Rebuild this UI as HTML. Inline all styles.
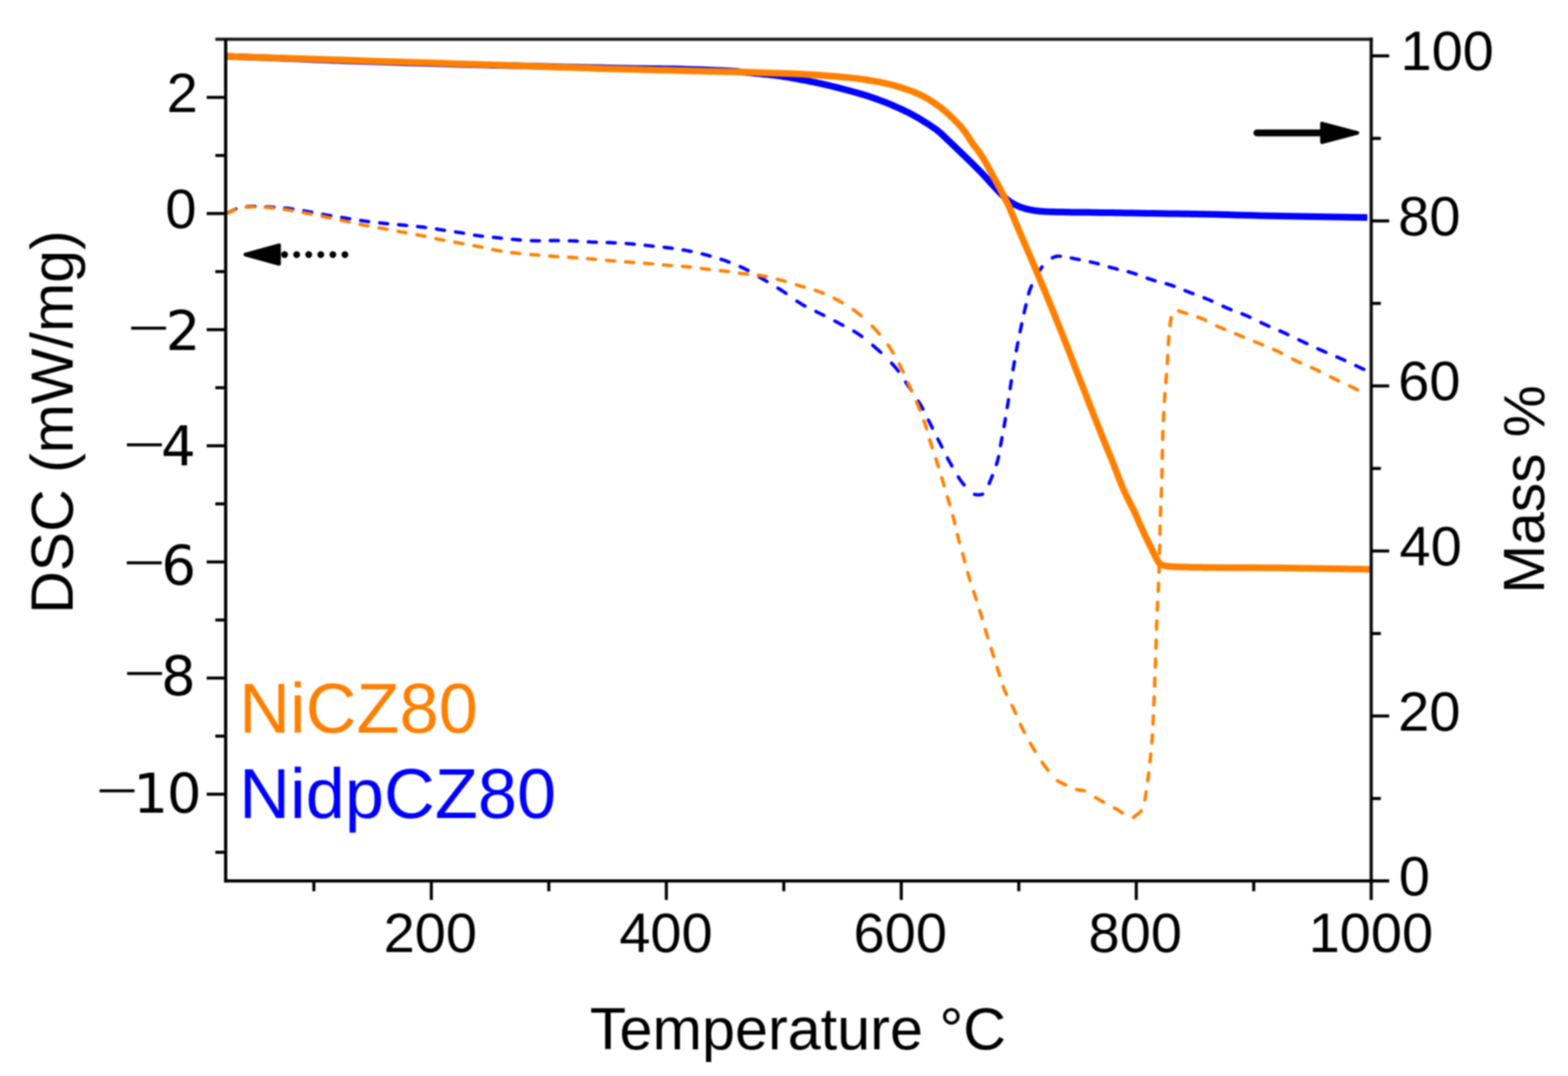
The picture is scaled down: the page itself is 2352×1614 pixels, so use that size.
<!DOCTYPE html>
<html lang="en"><head><meta charset="utf-8"><title>TGA / DSC of NiCZ80 and NidpCZ80</title>
<style>
html,body{margin:0;padding:0;background:#fff;}
body{width:2352px;height:1614px;overflow:hidden;}
svg{display:block;filter:blur(0.8px);}
</style></head><body>
<svg xmlns="http://www.w3.org/2000/svg" width="2352" height="1614" viewBox="0 0 2352 1614">
<rect width="2352" height="1614" fill="#fff"/>
<g fill="none" stroke-linejoin="round">
<path d="M341.9 319.4L342.0 319.3L342.8 318.9L343.6 318.4L344.4 317.9L345.3 317.4L346.2 317.0L347.2 316.5L348.6 315.9L350.1 315.2L351.6 314.5L353.3 313.8L353.9 313.5M370.4 309.9L370.7 309.8L372.7 309.7L374.8 309.6L377.9 309.5L381.3 309.5L382.4 309.5M398.8 310.2L399.7 310.2L403.3 310.4L406.9 310.6L410.4 310.8L410.8 310.8M427.2 312.1L428.2 312.2L431.7 312.6L435.3 313.0L438.8 313.5L439.2 313.6M455.7 316.2L456.6 316.4L460.2 317.0L463.9 317.7L467.7 318.3L467.7 318.3M484.1 321.5L485.3 321.7L489.1 322.4L492.7 323.0L496.1 323.6M512.6 326.2L512.9 326.3L516.4 326.8L520.0 327.4L523.5 328.0L524.6 328.1M541.0 330.7L541.3 330.8L544.8 331.3L548.4 331.8L551.9 332.2L553.0 332.4M569.5 334.3L569.8 334.4L573.3 334.7L576.9 335.1L580.4 335.5L581.5 335.6M598.0 337.0L598.2 337.1L601.7 337.4L605.3 337.7L608.8 338.1L610.0 338.2M626.4 339.8L626.7 339.8L630.2 340.2L633.8 340.6L637.3 341.1L638.4 341.2M654.8 343.6L655.1 343.6L658.6 344.2L662.2 344.7L665.7 345.2L666.8 345.4M683.3 347.8L683.6 347.9L687.1 348.4L690.7 349.0L694.2 349.6L695.3 349.8M711.8 352.7L712.0 352.7L715.5 353.3L719.1 353.8L722.6 354.2L723.8 354.3M740.2 356.0L740.5 356.0L744.0 356.4L747.6 356.7L751.1 357.1L752.2 357.2M768.6 359.0L768.9 359.0L772.4 359.3L776.0 359.6L779.5 359.9L780.6 360.0M797.1 361.0L797.4 361.0L800.9 361.1L804.5 361.2L808.0 361.3L809.1 361.3M825.5 360.9L825.8 360.9L829.3 360.9L832.9 360.9L836.4 360.9L837.5 360.9M854.0 361.2L854.3 361.2L857.8 361.3L861.4 361.4L864.9 361.6L866.0 361.7M882.5 362.8L882.7 362.8L886.2 363.0L889.8 363.2L893.3 363.3L894.5 363.3M910.9 363.8L911.2 363.8L914.7 363.9L918.3 364.1L921.8 364.2L922.9 364.3M939.4 365.2L939.6 365.3L943.1 365.5L946.7 365.8L950.3 366.1L951.4 366.2M967.8 367.9L968.1 368.0L971.6 368.3L975.2 368.7L978.7 369.1L979.8 369.2M996.3 370.9L996.5 371.0L1000.0 371.4L1003.6 371.9L1007.2 372.3L1008.3 372.5M1024.7 374.9L1025.0 374.9L1028.5 375.6L1032.1 376.2L1035.6 376.9L1036.7 377.1M1053.2 380.8L1053.4 380.9L1056.9 381.8L1060.5 382.7L1064.1 383.7L1065.2 384.0M1081.6 388.9L1081.9 389.0L1085.4 390.2L1089.0 391.4L1092.7 392.8L1093.6 393.1M1110.1 399.8L1111.1 400.3L1114.7 401.9L1118.3 403.7L1122.1 405.6M1138.5 415.1L1139.2 415.5L1142.8 417.7L1146.4 419.8L1149.9 421.9L1150.5 422.2M1167.0 432.2L1167.2 432.3L1170.6 434.5L1174.0 436.7L1177.5 439.0L1179.0 440.0M1195.4 451.7L1195.7 452.0L1199.2 454.2L1202.8 456.4L1206.4 458.4L1207.4 459.0M1223.9 467.2L1224.8 467.7L1228.5 469.5L1232.1 471.3L1235.5 473.1L1235.9 473.2M1252.3 481.6L1252.6 481.8L1256.1 483.6L1259.6 485.4L1263.3 487.4L1264.3 487.9M1280.8 496.8L1281.8 497.4L1285.4 499.6L1289.0 502.0L1292.6 504.6L1292.8 504.7M1309.2 517.9L1310.2 518.8L1313.6 521.8L1317.1 524.9L1320.6 528.1L1321.2 528.6M1337.4 544.7L1337.9 545.2L1341.0 548.7L1343.7 551.8L1345.8 554.5L1347.5 556.7M1358.6 573.2L1359.3 574.2L1362.0 578.2L1364.9 582.4L1366.7 585.2M1377.4 601.6L1377.5 601.7L1380.1 606.0L1382.3 609.8L1384.3 613.4L1384.4 613.6M1392.6 630.1L1393.1 631.1L1394.9 634.7L1396.7 638.3L1398.6 642.0L1398.6 642.1M1406.8 658.5L1407.1 659.1L1409.0 662.8L1410.8 666.4L1412.6 670.0L1412.9 670.5M1421.2 687.0L1421.6 687.7L1423.5 691.3L1425.5 694.8L1427.6 698.5L1427.8 699.0M1437.5 715.4L1437.8 715.8L1439.9 719.1L1442.0 722.1L1443.4 724.0L1444.9 725.9L1446.1 727.4M1461.8 741.5L1461.9 741.5L1462.8 741.7L1463.8 741.9L1464.8 742.1L1465.7 742.1L1466.7 742.2L1467.6 742.2L1468.6 742.2L1469.6 742.1L1470.6 742.0L1471.5 741.9L1472.5 741.7L1473.4 741.4L1473.8 741.2M1483.8 725.3L1484.0 724.8L1484.8 722.8L1485.7 720.7L1486.5 718.6L1487.7 715.6L1488.6 713.3M1494.6 696.8L1495.0 695.8L1496.1 692.2L1497.0 688.6L1497.9 685.0L1497.9 684.8M1500.8 668.4L1500.9 667.8L1501.6 664.1L1502.2 660.5L1502.9 656.9L1503.0 656.4M1506.0 639.9L1506.2 639.2L1506.8 635.7L1507.4 632.1L1508.0 628.6L1508.1 627.9M1510.8 611.5L1511.0 610.7L1511.5 607.2L1512.1 603.6L1512.6 600.1L1512.7 599.5M1515.2 583.0L1515.3 582.4L1515.8 578.8L1516.4 575.2L1517.0 571.4L1517.0 571.0M1519.6 554.6L1519.7 553.6L1520.4 549.8L1521.0 546.0L1521.6 542.6M1524.5 526.1L1524.7 525.1L1525.4 521.2L1526.1 517.5L1526.8 514.1M1530.1 497.7L1530.2 497.3L1530.8 494.2L1531.5 491.1L1532.2 487.7L1532.6 485.7M1536.2 469.2L1536.4 468.2L1537.2 464.7L1538.1 461.2L1538.9 457.6L1539.0 457.2M1542.9 440.8L1543.0 440.4L1544.2 436.7L1545.5 433.1L1547.1 429.1L1547.3 428.8M1555.5 412.3L1556.1 411.2L1558.3 407.4L1560.5 404.0L1562.4 401.4L1563.1 400.3M1578.5 386.7L1578.9 386.5L1580.5 385.9L1582.0 385.3L1583.6 384.8L1585.2 384.5L1586.8 384.3L1588.3 384.3L1589.9 384.3L1590.5 384.4M1606.9 387.1L1607.5 387.2L1609.4 387.6L1611.4 388.0L1613.8 388.5L1617.1 389.1L1618.9 389.5M1635.4 392.8L1635.8 392.9L1639.6 393.7L1643.2 394.6L1646.7 395.5L1647.4 395.7M1663.8 400.5L1663.9 400.5L1667.4 401.5L1670.9 402.4L1674.5 403.3L1675.8 403.7M1692.3 407.6L1693.0 407.8L1696.6 408.8L1700.2 409.9L1703.7 411.0L1704.3 411.2M1720.7 417.3L1720.9 417.3L1724.4 418.5L1727.9 419.7L1731.5 420.8L1732.7 421.1M1749.2 425.5L1749.9 425.7L1753.6 426.8L1757.2 428.0L1760.8 429.3L1761.2 429.4M1777.6 435.9L1778.6 436.3L1782.1 437.7L1785.7 439.1L1789.2 440.4L1789.6 440.5M1806.1 446.7L1807.0 447.1L1810.5 448.5L1814.1 450.0L1817.7 451.6L1818.1 451.7M1834.5 459.4L1835.5 459.8L1839.0 461.4L1842.6 462.9L1846.1 464.3L1846.5 464.5M1863.0 470.7L1863.9 471.1L1867.5 472.5L1871.0 474.0L1874.5 475.6L1875.0 475.8M1891.4 483.8L1892.0 484.1L1895.5 485.8L1899.1 487.4L1902.6 489.0L1903.4 489.4M1919.9 496.4L1920.5 496.7L1924.0 498.2L1927.6 499.8L1931.1 501.5L1931.9 501.8M1948.3 509.7L1948.9 510.0L1952.4 511.7L1956.0 513.4L1959.6 515.1L1960.3 515.4M1976.8 523.1L1977.6 523.5L1981.2 525.1L1984.8 526.7L1988.3 528.3L1988.8 528.4M2005.2 535.3L2006.2 535.7L2009.7 537.3L2013.3 538.8L2017.0 540.5L2017.2 540.6M2033.7 548.4L2034.5 548.8L2037.7 550.3L2040.5 551.6L2041.9 552.3L2043.2 552.8L2044.4 553.4L2045.6 553.9L2045.7 554.0" stroke="#0000ff" stroke-width="5.1" stroke-linecap="round"/>
<path d="M340.9 320.0L341.1 319.9L342.0 319.5L342.8 319.0L343.6 318.6L344.4 318.2L345.3 317.8L346.2 317.3L347.2 316.9L348.6 316.3L350.1 315.6L351.6 315.0L352.9 314.4M369.4 310.6L369.5 310.6L371.4 310.5L373.4 310.4L375.8 310.3L379.0 310.2L381.4 310.2M397.8 311.0L398.5 311.0L402.1 311.3L405.7 311.6L409.2 311.9L409.8 312.0M426.2 314.0L427.0 314.1L430.5 314.6L434.1 315.2L437.6 315.8L438.2 315.9M454.7 318.9L455.5 319.1L459.0 319.8L462.6 320.4L466.1 321.1L466.7 321.2M483.1 324.4L483.9 324.5L487.4 325.3L491.0 326.0L494.5 326.7L495.1 326.9M511.6 330.4L512.4 330.6L515.9 331.3L519.5 332.1L523.0 332.9L523.6 333.0M540.0 336.5L540.8 336.6L544.3 337.4L547.9 338.1L551.4 338.7L552.0 338.9M568.5 341.8L569.3 341.9L572.8 342.6L576.4 343.2L579.9 343.9L580.5 344.0M597.0 346.9L597.7 347.0L601.2 347.7L604.8 348.3L608.3 349.0L609.0 349.1M625.4 352.0L626.2 352.2L629.7 352.9L633.3 353.6L636.8 354.3L637.4 354.4M653.8 358.0L654.6 358.1L658.1 358.9L661.7 359.6L665.2 360.2L665.8 360.4M682.3 363.3L683.1 363.4L686.6 364.1L690.2 364.7L693.7 365.4L694.3 365.5M710.8 368.5L711.5 368.6L715.0 369.3L718.5 370.0L722.0 370.7L722.8 370.8M739.2 374.3L740.3 374.6L743.8 375.2L747.4 375.8L751.0 376.4L751.2 376.5M767.6 378.9L768.0 378.9L771.6 379.4L775.2 379.8L778.7 380.2L779.6 380.2M796.1 381.7L796.3 381.7L799.8 382.0L803.4 382.3L807.0 382.6L808.1 382.7M824.5 384.1L825.2 384.1L828.8 384.4L832.4 384.7L835.9 384.9L836.5 384.9M853.0 385.9L853.7 385.9L857.2 386.1L860.8 386.4L864.3 386.6L865.0 386.7M881.4 387.9L882.2 388.0L885.7 388.3L889.3 388.6L892.8 388.9L893.4 389.0M909.9 390.5L910.6 390.6L914.1 390.9L917.7 391.2L921.2 391.5L921.9 391.5M938.4 392.7L939.1 392.7L942.6 393.0L946.2 393.3L949.7 393.5L950.4 393.6M966.8 394.9L967.5 394.9L971.0 395.2L974.6 395.5L978.1 395.8L978.8 395.9M995.3 397.4L996.0 397.5L999.5 397.8L1003.1 398.1L1006.6 398.3L1007.3 398.4M1023.7 399.5L1024.4 399.6L1027.9 399.9L1031.5 400.2L1035.0 400.6L1035.7 400.7M1052.2 402.7L1052.8 402.8L1056.4 403.3L1060.0 403.7L1063.7 404.1L1064.2 404.1M1080.6 405.9L1080.8 405.9L1084.5 406.3L1088.1 406.7L1091.7 407.2L1092.6 407.3M1109.1 409.7L1109.4 409.7L1112.9 410.2L1116.5 410.6L1120.1 411.0L1121.1 411.2M1137.5 412.9L1137.9 412.9L1141.5 413.4L1145.0 414.0L1148.4 414.7L1149.5 414.9M1166.0 418.8L1166.8 419.0L1170.2 419.9L1173.8 420.9L1177.5 421.9L1178.0 422.0M1194.4 427.1L1194.6 427.1L1198.3 428.3L1201.9 429.4L1205.5 430.4L1206.4 430.7M1222.9 435.4L1223.2 435.5L1226.7 436.7L1230.3 438.1L1234.0 439.5L1234.9 439.9M1251.3 447.4L1252.4 448.0L1256.0 449.9L1259.6 451.9L1263.1 453.9L1263.3 454.0M1279.8 464.4L1280.4 464.8L1283.8 467.3L1287.2 469.9L1290.8 472.9L1291.8 473.7M1308.2 489.1L1308.2 489.1L1311.5 492.5L1314.6 495.9L1317.7 499.3L1319.1 501.1M1332.0 517.5L1332.7 518.4L1335.2 522.1L1337.5 525.6L1339.6 529.1L1339.9 529.5M1348.7 546.0L1349.2 546.9L1351.0 550.5L1352.8 554.0L1354.4 557.5L1354.7 558.0M1362.1 574.4L1362.4 575.1L1364.0 578.6L1365.6 582.2L1367.2 585.9L1367.5 586.4M1374.8 602.9L1374.9 603.0L1376.4 606.7L1377.9 610.3L1379.3 613.7L1379.7 614.9M1385.9 631.3L1386.2 632.0L1387.4 635.5L1388.6 639.1L1389.7 642.7L1389.9 643.3M1394.5 659.8L1394.6 659.9L1395.7 663.6L1396.8 667.2L1397.9 670.8L1398.3 671.8M1403.8 688.2L1404.0 688.6L1405.1 692.1L1406.3 695.7L1407.4 699.2L1407.7 700.2M1412.6 716.7L1412.7 717.0L1413.8 720.5L1414.9 724.1L1415.9 727.6L1416.2 728.7M1421.1 745.1L1421.1 745.1L1422.1 748.6L1423.1 752.2L1424.2 755.8L1424.6 757.1M1429.2 773.6L1429.3 773.8L1430.3 777.4L1431.2 781.0L1432.1 784.5L1432.3 785.6M1436.1 802.0L1436.2 802.1L1437.0 805.7L1437.9 809.2L1438.9 812.7L1439.2 814.0M1443.9 830.5L1444.2 831.5L1445.2 835.0L1446.2 838.6L1447.1 842.1L1447.2 842.5M1451.6 858.9L1451.9 860.0L1453.0 863.5L1454.0 867.1L1455.1 870.6L1455.2 870.9M1460.5 887.4L1460.9 888.4L1462.0 891.9L1463.2 895.5L1464.3 899.0L1464.4 899.4M1469.6 915.8L1469.9 916.8L1471.0 920.4L1472.1 924.0L1473.2 927.5L1473.2 927.8M1478.0 944.3L1478.3 945.3L1479.3 948.8L1480.4 952.4L1481.5 955.9L1481.6 956.3M1486.8 972.7L1487.1 973.7L1488.2 977.2L1489.3 980.8L1490.5 984.3L1490.6 984.7M1495.8 1001.2L1496.1 1002.1L1497.2 1005.7L1498.4 1009.3L1499.5 1012.9L1499.5 1013.2M1504.7 1029.6L1504.8 1029.8L1506.1 1033.3L1507.5 1036.9L1509.0 1040.4L1509.6 1041.6M1517.9 1058.1L1518.2 1058.7L1519.9 1062.2L1521.6 1065.8L1523.2 1069.4L1523.5 1070.1M1530.6 1086.5L1531.1 1087.6L1532.8 1091.2L1534.6 1094.8L1536.4 1098.4L1536.5 1098.5M1545.5 1115.0L1545.5 1115.0L1547.6 1118.5L1549.7 1122.1L1552.0 1125.9L1552.7 1127.0M1563.2 1143.4L1564.0 1144.6L1566.4 1148.0L1568.7 1151.1L1570.7 1153.8L1571.9 1155.4M1586.4 1171.1L1586.8 1171.3L1588.7 1172.6L1590.7 1173.6L1592.7 1174.6L1594.6 1175.6L1596.6 1176.5L1598.4 1177.3M1614.8 1184.3L1615.3 1184.4L1617.2 1184.7L1619.2 1184.9L1621.2 1185.1L1623.2 1185.4L1625.2 1185.7L1626.8 1186.1M1643.3 1196.3L1643.9 1196.6L1645.8 1197.8L1647.7 1198.9L1649.6 1200.0L1651.6 1201.1L1653.6 1202.2L1655.3 1203.2M1671.7 1212.0L1672.1 1212.2L1674.4 1213.5L1676.6 1214.8L1678.5 1215.9L1680.3 1217.1L1682.1 1218.3L1683.7 1219.4M1700.2 1226.2L1700.3 1226.0L1701.0 1225.4L1701.8 1224.8L1702.5 1224.2L1703.3 1223.6L1704.0 1223.0L1704.9 1222.3L1705.8 1221.7L1706.7 1221.0L1707.6 1220.3L1708.5 1219.6L1709.4 1218.9L1710.3 1218.1L1711.0 1217.2L1711.7 1216.2L1711.7 1216.1M1717.3 1199.7L1717.4 1199.4L1717.7 1197.7L1718.0 1195.9L1718.5 1192.8L1719.1 1189.5L1719.3 1187.7M1721.6 1171.2L1721.7 1170.3L1722.2 1166.6L1722.6 1163.1L1723.1 1159.7L1723.1 1159.2M1724.9 1142.8L1724.9 1142.5L1725.3 1139.0L1725.7 1135.5L1726.0 1131.9L1726.1 1130.8M1727.7 1114.3L1727.7 1114.1L1728.0 1110.5L1728.3 1106.9L1728.5 1103.4L1728.6 1102.3M1729.5 1085.9L1729.5 1085.7L1729.7 1082.1L1729.9 1078.5L1730.0 1075.0L1730.1 1073.9M1730.7 1057.4L1730.8 1057.2L1730.9 1053.6L1731.0 1050.0L1731.2 1046.5L1731.2 1045.4M1731.9 1029.0L1731.9 1028.7L1732.0 1025.2L1732.1 1021.8L1732.3 1018.4L1732.3 1017.0M1733.0 1000.5L1733.0 1000.3L1733.1 996.8L1733.3 993.2L1733.4 989.5L1733.4 988.5M1733.9 972.1L1733.9 971.0L1734.0 967.4L1734.1 964.0L1734.2 960.5L1734.2 960.1M1734.7 943.6L1734.7 943.3L1734.8 939.8L1735.0 936.2L1735.1 932.5L1735.1 931.6M1735.8 915.2L1735.9 914.1L1736.1 910.5L1736.2 907.0L1736.4 903.6L1736.4 903.2M1737.3 886.7L1737.3 886.3L1737.5 882.8L1737.6 879.2L1737.8 875.6L1737.8 874.7M1738.5 858.3L1738.5 857.4L1738.6 853.8L1738.8 850.3L1738.9 846.8L1738.9 846.3M1739.4 829.8L1739.4 829.3L1739.5 825.8L1739.6 822.2L1739.7 818.6L1739.7 817.8M1739.9 801.4L1740.0 800.4L1740.0 796.8L1740.1 793.2L1740.2 789.5L1740.2 789.4M1740.6 772.9L1740.6 772.6L1740.7 769.0L1740.8 765.5L1741.0 762.1L1741.0 760.9M1741.9 744.5L1741.9 743.7L1742.0 740.2L1742.2 736.5L1742.3 732.9L1742.3 732.5M1742.8 716.0L1742.8 715.6L1742.9 712.0L1743.0 708.5L1743.0 705.1L1743.1 704.0M1743.3 687.6L1743.4 686.8L1743.4 683.3L1743.5 679.7L1743.6 676.0L1743.6 675.6M1744.0 659.1L1744.0 658.8L1744.1 655.2L1744.2 651.7L1744.3 648.3L1744.4 647.1M1745.1 630.7L1745.1 629.9L1745.3 626.4L1745.4 622.8L1745.6 619.1L1745.7 618.7M1746.6 602.2L1746.7 601.9L1746.9 598.3L1747.1 594.8L1747.4 591.4L1747.5 590.2M1748.8 573.8L1748.8 573.0L1749.1 569.5L1749.4 565.9L1749.7 562.2L1749.7 561.8M1750.9 545.3L1751.0 545.1L1751.2 541.4L1751.4 537.7L1751.6 534.0L1751.7 533.3M1752.5 516.9L1752.5 516.9L1752.7 513.2L1753.0 509.6L1753.2 505.8L1753.3 504.9M1754.8 488.4L1754.9 487.5L1755.3 484.4L1755.7 482.1L1756.1 480.1L1756.4 478.3L1756.8 476.5L1756.8 476.4M1768.1 466.2L1768.3 466.3L1769.4 466.8L1770.6 467.3L1771.9 467.8L1774.2 468.5L1777.4 469.4L1780.1 470.2M1796.6 475.5L1796.7 475.5L1800.5 476.9L1804.1 478.4L1807.7 480.0L1808.6 480.5M1825.0 488.8L1825.4 489.0L1829.0 490.7L1832.6 492.2L1836.1 493.7L1837.0 494.1M1853.5 500.7L1853.9 500.9L1857.4 502.3L1861.0 503.8L1864.5 505.2L1865.5 505.6M1881.9 512.4L1882.3 512.5L1885.9 514.0L1889.5 515.5L1893.2 517.0L1893.9 517.3M1910.4 524.2L1911.6 524.7L1915.2 526.3L1918.7 528.0L1922.2 529.8L1922.4 529.9M1938.8 538.6L1939.3 538.9L1942.8 540.6L1946.4 542.3L1950.0 544.0L1950.8 544.3M1967.3 551.4L1968.5 551.9L1972.1 553.5L1975.6 555.2L1979.1 556.9L1979.3 557.0M1995.7 565.3L1996.3 565.6L1999.7 567.3L2003.4 569.1L2007.2 570.9L2007.7 571.2M2024.2 578.8L2025.2 579.3L2028.4 580.8L2030.7 581.9L2031.9 582.5L2033.1 583.1L2034.2 583.7L2035.2 584.2L2036.1 584.7L2036.2 584.7" stroke="#ff8000" stroke-width="5.1" stroke-linecap="round"/>
<path d="M338.5 84.6 L352.6 85.1 L366.8 85.6 L381.1 86.1 L395.4 86.6 L409.5 87.1 L423.4 87.6 L436.9 88.1 L450.0 88.6 L460.4 89.0 L470.1 89.4 L479.4 89.7 L488.6 90.1 L497.9 90.4 L507.8 90.8 L518.4 91.2 L530.0 91.6 L551.4 92.3 L576.1 93.1 L602.9 93.9 L630.8 94.8 L658.6 95.6 L685.1 96.4 L709.3 97.0 L730.0 97.6 L740.3 97.9 L749.5 98.1 L757.9 98.3 L765.9 98.5 L773.8 98.6 L781.8 98.8 L790.5 99.0 L800.0 99.2 L814.5 99.5 L830.3 99.9 L846.9 100.4 L864.0 100.8 L881.2 101.2 L898.2 101.6 L914.6 102.0 L930.0 102.3 L942.1 102.5 L953.8 102.7 L965.2 102.8 L976.4 102.9 L987.4 103.0 L998.3 103.2 L1009.1 103.3 L1020.0 103.6 L1030.5 103.9 L1041.2 104.2 L1052.0 104.6 L1062.7 104.9 L1073.0 105.4 L1082.8 105.8 L1091.9 106.3 L1100.0 106.8 L1104.4 107.1 L1108.5 107.5 L1112.2 107.9 L1115.8 108.2 L1119.2 108.6 L1122.7 109.0 L1126.2 109.4 L1130.0 109.8 L1134.2 110.2 L1138.5 110.6 L1142.8 111.0 L1147.1 111.4 L1151.5 111.8 L1155.8 112.3 L1160.2 112.8 L1164.5 113.3 L1168.8 113.9 L1173.1 114.5 L1177.5 115.2 L1181.8 115.9 L1186.1 116.7 L1190.4 117.4 L1194.7 118.2 L1199.0 119.0 L1203.3 119.8 L1207.6 120.6 L1211.9 121.4 L1216.2 122.3 L1220.5 123.1 L1224.8 124.0 L1229.1 125.0 L1233.4 125.9 L1237.7 126.9 L1242.1 127.9 L1246.4 129.0 L1250.7 130.0 L1255.0 131.1 L1259.4 132.2 L1263.7 133.4 L1268.0 134.5 L1272.3 135.6 L1276.6 136.8 L1280.9 138.0 L1285.2 139.1 L1289.5 140.4 L1293.8 141.6 L1298.1 142.9 L1302.4 144.3 L1306.7 145.7 L1311.1 147.2 L1315.4 148.8 L1319.8 150.4 L1324.1 152.0 L1328.4 153.7 L1332.7 155.4 L1337.0 157.2 L1341.3 159.1 L1345.7 161.0 L1350.0 162.9 L1354.3 164.9 L1358.6 167.0 L1362.9 169.1 L1367.2 171.3 L1371.4 173.6 L1375.9 176.1 L1380.5 178.8 L1385.1 181.7 L1389.7 184.5 L1394.2 187.4 L1398.5 190.3 L1402.4 193.0 L1405.9 195.6 L1408.0 197.3 L1410.0 198.9 L1411.8 200.5 L1413.4 202.0 L1415.1 203.6 L1416.7 205.1 L1418.3 206.7 L1420.0 208.3 L1421.7 209.9 L1423.5 211.6 L1425.2 213.2 L1426.9 214.9 L1428.6 216.5 L1430.4 218.2 L1432.1 219.8 L1433.8 221.5 L1435.5 223.2 L1437.3 224.8 L1439.0 226.5 L1440.7 228.1 L1442.4 229.8 L1444.2 231.5 L1445.9 233.1 L1447.6 234.8 L1449.3 236.5 L1451.1 238.2 L1452.8 239.8 L1454.5 241.5 L1456.2 243.2 L1458.0 244.9 L1459.7 246.6 L1461.4 248.3 L1463.1 250.0 L1464.9 251.8 L1466.6 253.5 L1468.3 255.2 L1470.1 257.0 L1471.8 258.7 L1473.5 260.5 L1475.2 262.3 L1476.9 264.2 L1478.7 266.0 L1480.4 268.0 L1482.1 269.9 L1483.8 271.8 L1485.5 273.7 L1487.3 275.6 L1489.0 277.5 L1490.7 279.4 L1492.5 281.2 L1494.2 283.1 L1496.0 285.0 L1497.7 286.8 L1499.4 288.6 L1501.1 290.4 L1502.8 292.0 L1504.2 293.3 L1505.5 294.7 L1506.9 295.9 L1508.2 297.2 L1509.5 298.3 L1510.9 299.5 L1512.3 300.6 L1513.8 301.7 L1515.4 302.8 L1517.1 303.8 L1518.8 304.9 L1520.5 305.8 L1522.3 306.8 L1524.1 307.7 L1525.8 308.5 L1527.6 309.3 L1529.3 310.0 L1531.0 310.7 L1532.7 311.3 L1534.5 311.8 L1536.2 312.4 L1537.9 312.9 L1539.7 313.4 L1541.4 313.8 L1543.1 314.2 L1544.8 314.6 L1546.6 314.9 L1548.3 315.3 L1550.0 315.5 L1551.7 315.8 L1553.5 316.1 L1555.2 316.3 L1556.9 316.5 L1558.5 316.7 L1560.1 316.8 L1561.7 317.0 L1563.4 317.1 L1565.1 317.2 L1567.0 317.3 L1569.0 317.4 L1572.6 317.6 L1576.5 317.7 L1580.8 317.8 L1585.2 317.9 L1589.8 318.0 L1594.4 318.1 L1599.0 318.2 L1603.4 318.3 L1607.7 318.4 L1611.9 318.4 L1616.0 318.5 L1620.2 318.5 L1624.5 318.6 L1628.8 318.6 L1633.3 318.6 L1637.9 318.7 L1643.7 318.8 L1649.6 318.9 L1655.6 318.9 L1661.8 319.0 L1668.2 319.1 L1674.8 319.2 L1681.6 319.3 L1688.6 319.4 L1698.4 319.5 L1709.0 319.7 L1720.1 319.9 L1731.5 320.0 L1742.9 320.2 L1754.1 320.4 L1764.8 320.5 L1774.8 320.7 L1782.2 320.8 L1789.1 321.0 L1795.7 321.1 L1802.1 321.2 L1808.6 321.3 L1815.3 321.5 L1822.4 321.6 L1830.0 321.8 L1841.0 322.1 L1852.7 322.4 L1864.9 322.7 L1877.6 323.0 L1890.5 323.4 L1903.6 323.7 L1916.8 324.0 L1930.0 324.3 L1944.6 324.6 L1959.4 324.8 L1974.5 325.1 L1989.8 325.3 L2005.1 325.5 L2020.5 325.7 L2035.8 326.0 L2051.0 326.2" stroke="#0000ff" stroke-width="10" stroke-linecap="butt"/>
<path d="M338.5 84.6 L362.4 85.3 L386.3 86.1 L410.1 86.8 L434.0 87.6 L457.9 88.3 L481.8 89.1 L505.9 89.8 L530.0 90.6 L554.8 91.4 L579.7 92.2 L604.7 93.0 L629.7 93.8 L654.8 94.6 L679.9 95.4 L705.0 96.2 L730.0 97.0 L755.0 97.8 L780.0 98.7 L805.0 99.5 L830.0 100.4 L855.0 101.2 L880.0 102.1 L905.0 102.9 L930.0 103.6 L955.7 104.3 L982.4 105.0 L1009.6 105.6 L1036.5 106.3 L1062.6 106.9 L1087.3 107.5 L1110.0 108.0 L1130.0 108.6 L1140.3 108.9 L1149.8 109.2 L1158.5 109.4 L1166.7 109.7 L1174.7 109.9 L1182.6 110.2 L1190.6 110.6 L1199.0 111.0 L1207.8 111.5 L1216.8 112.0 L1225.9 112.6 L1235.0 113.2 L1243.9 113.9 L1252.4 114.5 L1260.5 115.2 L1268.0 115.9 L1272.9 116.4 L1277.4 116.9 L1281.8 117.4 L1286.0 117.8 L1290.0 118.4 L1294.1 118.9 L1298.2 119.5 L1302.4 120.2 L1306.7 120.9 L1311.1 121.6 L1315.4 122.4 L1319.7 123.2 L1324.1 124.1 L1328.4 125.0 L1332.7 126.0 L1337.0 127.1 L1341.4 128.3 L1345.9 129.6 L1350.5 131.0 L1355.0 132.4 L1359.4 133.9 L1363.7 135.4 L1367.7 136.9 L1371.4 138.3 L1373.9 139.3 L1376.2 140.3 L1378.4 141.3 L1380.4 142.2 L1382.5 143.2 L1384.5 144.3 L1386.5 145.4 L1388.6 146.5 L1390.8 147.7 L1393.0 149.0 L1395.2 150.4 L1397.3 151.7 L1399.5 153.2 L1401.6 154.6 L1403.8 156.1 L1405.9 157.6 L1408.1 159.2 L1410.3 160.8 L1412.4 162.5 L1414.5 164.2 L1416.7 166.0 L1418.8 167.8 L1420.9 169.6 L1423.0 171.5 L1425.2 173.6 L1427.5 175.8 L1429.8 178.0 L1432.1 180.3 L1434.3 182.6 L1436.5 184.9 L1438.5 187.0 L1440.3 189.1 L1441.6 190.5 L1442.7 191.9 L1443.9 193.3 L1444.9 194.6 L1445.9 195.9 L1446.9 197.2 L1448.0 198.6 L1449.0 200.0 L1450.1 201.6 L1451.2 203.3 L1452.3 205.0 L1453.4 206.8 L1454.5 208.6 L1455.6 210.3 L1456.7 212.1 L1457.9 213.8 L1459.1 215.5 L1460.4 217.3 L1461.8 219.0 L1463.1 220.7 L1464.4 222.4 L1465.8 224.1 L1467.1 225.9 L1468.3 227.6 L1469.5 229.3 L1470.6 231.0 L1471.8 232.7 L1472.9 234.5 L1474.0 236.2 L1475.1 237.9 L1476.2 239.7 L1477.2 241.4 L1478.2 243.1 L1479.2 244.8 L1480.1 246.6 L1481.1 248.3 L1482.0 250.0 L1482.9 251.7 L1483.9 253.5 L1484.8 255.2 L1485.8 256.9 L1486.7 258.6 L1487.7 260.4 L1488.6 262.1 L1489.5 263.8 L1490.5 265.5 L1491.4 267.3 L1492.4 269.0 L1493.4 270.7 L1494.3 272.4 L1495.3 274.2 L1496.2 275.9 L1497.2 277.6 L1498.1 279.3 L1499.1 281.1 L1500.0 282.8 L1500.9 284.5 L1501.8 286.3 L1502.6 288.0 L1503.5 289.7 L1504.4 291.5 L1505.2 293.2 L1506.1 294.9 L1506.9 296.6 L1507.7 298.1 L1508.4 299.6 L1509.2 301.1 L1509.9 302.5 L1510.7 304.0 L1511.5 305.6 L1512.3 307.2 L1513.1 309.0 L1514.4 311.8 L1515.7 314.8 L1517.0 318.1 L1518.4 321.4 L1519.8 324.9 L1521.3 328.4 L1522.7 331.8 L1524.1 335.2 L1525.6 338.6 L1527.0 342.1 L1528.5 345.5 L1530.0 349.0 L1531.5 352.4 L1532.9 355.9 L1534.4 359.4 L1535.9 362.8 L1537.3 366.1 L1538.7 369.4 L1540.1 372.6 L1541.5 375.8 L1542.9 379.1 L1544.4 382.5 L1545.9 386.1 L1547.6 390.0 L1550.2 396.1 L1553.0 402.7 L1555.9 409.7 L1559.0 417.0 L1562.1 424.5 L1565.3 432.0 L1568.4 439.5 L1571.4 446.9 L1574.5 454.4 L1577.6 462.0 L1580.7 469.6 L1583.8 477.3 L1586.8 485.0 L1589.9 492.7 L1593.0 500.3 L1596.0 508.0 L1599.0 515.6 L1602.0 523.2 L1604.9 530.8 L1607.9 538.5 L1610.8 546.1 L1613.8 553.7 L1616.7 561.4 L1619.7 569.0 L1622.8 576.9 L1626.0 585.0 L1629.2 593.2 L1632.4 601.4 L1635.5 609.4 L1638.5 617.1 L1641.4 624.4 L1644.0 631.0 L1645.6 635.1 L1647.2 639.0 L1648.6 642.7 L1650.0 646.2 L1651.3 649.6 L1652.7 653.0 L1654.1 656.4 L1655.5 660.0 L1657.0 663.7 L1658.5 667.4 L1660.0 671.0 L1661.5 674.7 L1663.1 678.4 L1664.6 682.2 L1666.2 686.0 L1667.8 690.0 L1669.7 694.9 L1671.8 700.2 L1673.9 705.6 L1676.0 711.1 L1678.0 716.5 L1680.1 721.7 L1682.0 726.6 L1683.9 731.0 L1685.1 733.8 L1686.3 736.4 L1687.4 738.9 L1688.5 741.2 L1689.6 743.5 L1690.7 745.8 L1691.8 748.1 L1693.0 750.5 L1694.2 752.9 L1695.4 755.4 L1696.7 757.9 L1698.0 760.3 L1699.2 762.7 L1700.5 765.2 L1701.6 767.6 L1702.8 770.0 L1703.8 772.2 L1704.8 774.4 L1705.7 776.5 L1706.6 778.6 L1707.5 780.8 L1708.4 782.9 L1709.4 785.2 L1710.5 787.6 L1712.0 790.8 L1713.6 794.3 L1715.3 797.9 L1717.0 801.6 L1718.8 805.3 L1720.4 808.8 L1722.0 812.2 L1723.5 815.2 L1724.5 817.2 L1725.4 819.0 L1726.2 820.8 L1727.1 822.5 L1727.9 824.2 L1728.7 825.8 L1729.5 827.4 L1730.3 829.0 L1731.0 830.4 L1731.6 831.8 L1732.3 833.2 L1732.9 834.5 L1733.5 835.9 L1734.2 837.1 L1734.8 838.4 L1735.5 839.5 L1736.0 840.4 L1736.6 841.2 L1737.1 842.0 L1737.6 842.8 L1738.2 843.6 L1738.7 844.3 L1739.3 844.9 L1740.0 845.5 L1740.7 846.0 L1741.4 846.5 L1742.1 846.9 L1742.8 847.3 L1743.6 847.6 L1744.4 847.9 L1745.2 848.2 L1746.0 848.5 L1746.9 848.8 L1747.8 848.9 L1748.7 849.1 L1749.7 849.2 L1750.7 849.3 L1751.7 849.4 L1752.9 849.5 L1754.1 849.6 L1756.5 849.8 L1759.1 849.9 L1762.0 850.1 L1765.1 850.2 L1768.3 850.3 L1771.5 850.4 L1774.7 850.5 L1777.9 850.6 L1781.2 850.7 L1784.3 850.8 L1787.4 850.9 L1790.5 850.9 L1793.8 851.0 L1797.4 851.1 L1801.4 851.1 L1805.9 851.2 L1817.2 851.3 L1830.7 851.4 L1845.9 851.5 L1862.3 851.6 L1879.4 851.6 L1896.7 851.7 L1913.8 851.8 L1930.0 852.0 L1946.0 852.2 L1962.1 852.4 L1978.2 852.7 L1994.3 852.9 L2010.5 853.2 L2026.7 853.5 L2042.9 853.7 L2059.0 854.0" stroke="#ff8000" stroke-width="10" stroke-linecap="butt"/>
</g>
<g fill="#000" stroke="#000" stroke-linejoin="round" stroke-linecap="round">
<path d="M1885.3 199.3H1985" stroke-width="10.2" fill="none"/>
<path d="M1983 185.3L2036 199.3L1983 213.3Z" stroke-width="5.5"/>
<path d="M426.9 381.8H518" stroke-width="10.3" stroke-dasharray="0 18.1" fill="none"/>
<path d="M418.6 367.8L368 381.8L418.6 395.8Z" stroke-width="5.5"/>
</g>
<g stroke="#000" stroke-width="4.8" fill="none" stroke-linecap="butt">
<path d="M323.0 58.8H2059.2000000000003" stroke="#1a1a1a"/>
<path d="M2056.8 56.4V1349.9" stroke="#0a0a0a"/>
<path d="M338.5 58.8V1323.8000000000002"/>
<path d="M336.1 1321.4H2083.8"/>
</g>
<g stroke="#000" stroke-width="4.6" fill="none" stroke-linecap="butt">
<path d="M323.0 1278.4H338.5"/>
<path d="M310.0 1191.3H338.5"/>
<path d="M323.0 1104.2H338.5"/>
<path d="M310.0 1017.1H338.5"/>
<path d="M323.0 930.0H338.5"/>
<path d="M310.0 842.9H338.5"/>
<path d="M323.0 755.8H338.5"/>
<path d="M310.0 668.7H338.5"/>
<path d="M323.0 581.6H338.5"/>
<path d="M310.0 494.5H338.5"/>
<path d="M323.0 407.4H338.5"/>
<path d="M310.0 320.3H338.5"/>
<path d="M323.0 233.2H338.5"/>
<path d="M310.0 146.1H338.5"/>
<path d="M2056.8 1197.8h14.5"/>
<path d="M2056.8 1074.0h27"/>
<path d="M2056.8 950.3h14.5"/>
<path d="M2056.8 826.5h27"/>
<path d="M2056.8 702.7h14.5"/>
<path d="M2056.8 578.9h27"/>
<path d="M2056.8 455.1h14.5"/>
<path d="M2056.8 331.4h27"/>
<path d="M2056.8 207.6h14.5"/>
<path d="M2056.8 83.8h27"/>
<path d="M470.8 1321.4v15.5"/>
<path d="M647.0 1321.4v28.5"/>
<path d="M823.2 1321.4v15.5"/>
<path d="M999.5 1321.4v28.5"/>
<path d="M1175.7 1321.4v15.5"/>
<path d="M1351.9 1321.4v28.5"/>
<path d="M1528.2 1321.4v15.5"/>
<path d="M1704.4 1321.4v28.5"/>
<path d="M1880.6 1321.4v15.5"/>
</g>
<g font-family="'Liberation Sans', Arial, Helvetica, sans-serif" fill="#000" font-size="84">
<text x="575.4" y="1428.4">200</text>
<text x="928.9" y="1428.4">400</text>
<text x="1280.3" y="1428.4">600</text>
<text x="1632.8" y="1428.4">800</text>
<text x="1962.9" y="1428.4">1000</text>
<text x="2098.3" y="1343.1">0</text>
<text x="2097.3" y="1095.5">20</text>
<text x="2099.3" y="848.0">40</text>
<text x="2097.3" y="600.4">60</text>
<text x="2097.3" y="352.9">80</text>
<text x="2100.7" y="105.3">100</text>
<text x="250.0" y="168.3">2</text>
<text x="248.0" y="342.0">0</text>
</g>
<g font-family="'DejaVu Sans', Verdana, sans-serif" fill="#000" font-size="82">
<text><tspan x="188.5" y="518.2" font-family="'DejaVu Sans Light', 'DejaVu Sans', sans-serif" font-weight="200" stroke="#000" stroke-width="1.1">−</tspan><tspan x="248.6" y="524.7" >2</tspan></text>
<text><tspan x="182.2" y="692.5" font-family="'DejaVu Sans Light', 'DejaVu Sans', sans-serif" font-weight="200" stroke="#000" stroke-width="1.1">−</tspan><tspan x="241.6" y="697.9" >4</tspan></text>
<text><tspan x="182.0" y="870.3" font-family="'DejaVu Sans Light', 'DejaVu Sans', sans-serif" font-weight="200" stroke="#000" stroke-width="1.1">−</tspan><tspan x="242.1" y="876.5" >6</tspan></text>
<text><tspan x="182.4" y="1035.8" font-family="'DejaVu Sans Light', 'DejaVu Sans', sans-serif" font-weight="200" stroke="#000" stroke-width="1.1">−</tspan><tspan x="241.6" y="1042.7" >8</tspan></text>
<text><tspan x="141.3" y="1212.1" font-family="'DejaVu Sans Light', 'DejaVu Sans', sans-serif" font-weight="200" stroke="#000" stroke-width="1.1">−</tspan><tspan x="200.1" y="1218.7" letter-spacing="-2">10</tspan></text>
</g>
<g font-family="'Liberation Sans', Arial, Helvetica, sans-serif" fill="#000">
<text x="884.8" y="1574" font-size="89">Temperature °C</text>
<text transform="translate(109,920.8) rotate(-90)" font-size="88.5">DSC (mW/mg)</text>
<text transform="translate(2316.3,890.6) rotate(-90)" font-size="88">Mass %</text>
<text x="358.8" y="1098.5" font-size="105.6" fill="#ff8000">NiCZ80</text>
<text x="358.8" y="1227.4" font-size="105.6" fill="#0000ff">NidpCZ80</text>
</g>
</svg>
</body></html>
